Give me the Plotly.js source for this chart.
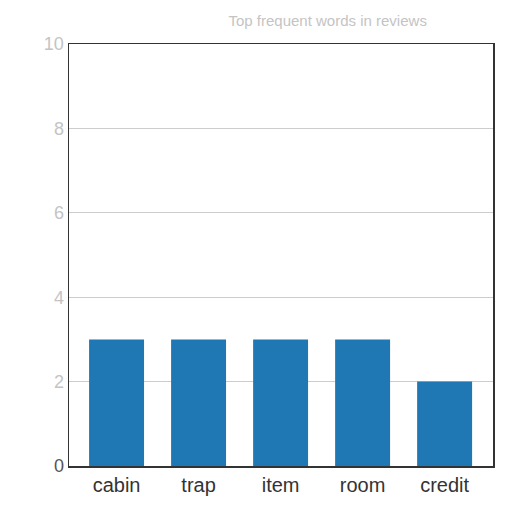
<!DOCTYPE html>
<html>
<head>
<meta charset="utf-8">
<script src="https://cdn.plot.ly/plotly-3.0.1.min.js"></script>
<style>html,body{margin:0;padding:0;background:#fff}#chart{width:512px;height:512px}</style>
</head>
<body>
<div id="chart"></div>
<script>
const categories = ["cabin", "trap", "item", "room", "credit"];
const counts = [3, 3, 3, 3, 2];
const yTicks = [0, 2, 4, 6, 8, 10];
const titleText = "Top frequent words in reviews";

const trace = {
  type: "bar",
  x: categories,
  y: counts,
  marker: {color: "#1f77b4"},
  width: 0.67,
  hoverinfo: "skip"
};

const layout = {
  width: 512,
  height: 512,
  margin: {l: 69, r: 19, t: 44, b: 46},
  paper_bgcolor: "#ffffff",
  plot_bgcolor: "#ffffff",
  showlegend: false,
  font: {family: "Liberation Sans, Arial, sans-serif", color: "#333"},
  title: {
    text: titleText,
    font: {size: 15, color: "#c4c4c4"},
    x: 0.64, xanchor: "center",
    y: 0.96, yanchor: "middle"
  },
  xaxis: {
    range: [-0.58, 4.59],
    showgrid: false,
    showline: true, linecolor: "#333", linewidth: 1.5, mirror: true,
    ticks: "",
    tickfont: {size: 20, color: "#333"},
    fixedrange: true
  },
  yaxis: {
    range: [0, 10],
    tickvals: yTicks,
    ticktext: yTicks.map(v => v === 0 ? '<span style="fill:#555">' + v + '</span>' : String(v)),
    showgrid: true, gridcolor: "#cccccc", gridwidth: 1.2,
    showline: true, linecolor: "#333", linewidth: 1.5, mirror: true,
    zeroline: false,
    ticks: "",
    tickfont: {size: 18, color: "#c4c4c4"},
    fixedrange: true
  }
};

Plotly.newPlot("chart", [trace], layout, {displayModeBar: false, staticPlot: true});
</script>
</body>
</html>
